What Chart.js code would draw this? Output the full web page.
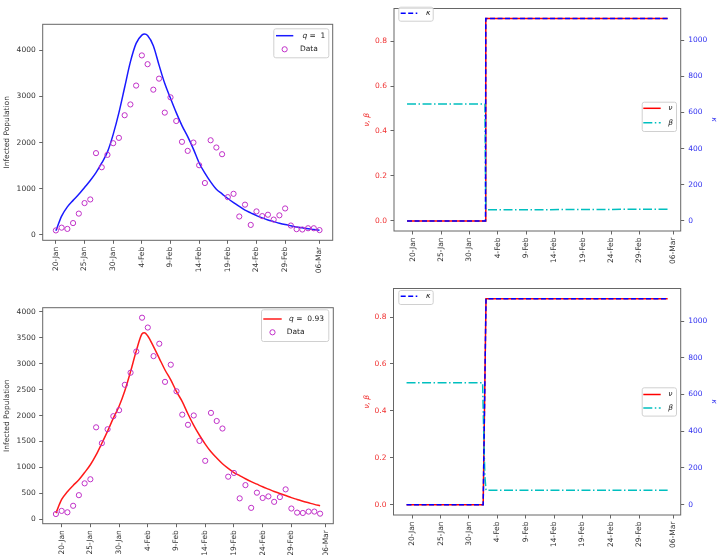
<!DOCTYPE html>
<html>
<head>
<meta charset="utf-8">
<script src="https://cdn.jsdelivr.net/npm/chart.js@4.4.0/dist/chart.umd.min.js"></script>
<style>
  body { margin: 0; background: #fff; }
  #wrap { position: relative; width: 718px; height: 555px; }
  canvas { position: absolute; }
</style>
</head>
<body>
<div id="wrap">
  <canvas id="tl" width="360" height="280" style="left:0;top:0"></canvas>
  <canvas id="bl" width="360" height="275" style="left:0;top:280px"></canvas>
  <canvas id="tr" width="358" height="280" style="left:360px;top:0"></canvas>
  <canvas id="br" width="358" height="275" style="left:360px;top:280px"></canvas>
</div>
<script>
// day index of each observation (0 = first day of the series)
const days = [0,1,2,3,4,5,6,7,8,9,10,11,12,13,14,15,16,17,18,19,20,21,22,23,24,25,26,27,28,29,30,31,32,33,34,35,36,37,38,39,40,41,42,43,44,45,46];
// daily infected counts (open circles)
const infectedData = [99,159,132,258,463,691,770,1773,1467,1736,1988,2104,2594,2828,3237,3890,3700,3148,3387,2651,2982,2469,2018,1822,2002,1511,1126,2052,1895,1750,820,892,401,657,218,511,409,439,334,426,575,205,126,119,146,146,106];

// fitted curve, q = 1
const fitDaysQ1 = [0,1,2,3,4,5,6,7,8,9,10,11,12,13,14,15,15.5,16,17,18,19,20,21,22,23,24,25,26,27,28,29,30,31,32,33,34,35,36,37,38,39,40,41,42,43,44,45,46];
const fitQ1 = [90,410,610,750,880,1030,1180,1350,1560,1800,2180,2650,3200,3750,4150,4330,4354,4320,4100,3680,3280,2960,2650,2370,2130,1860,1560,1340,1150,990,890,790,700,620,540,480,420,370,325,290,255,225,200,175,155,135,118,102];

// fitted curve, q = 0.93
const fitDaysQ093 = [0,1,2,3,4,5,6,7,8,9,10,11,12,13,14,15,15.4,16,17,18,19,20,21,22,23,24,25,26,27,28,29,30,31,32,33,34,35,36,37,38,39,40,41,42,43,44,45,46];
const fitQ093 = [116,380,530,650,760,900,1050,1240,1466,1700,1950,2180,2480,2850,3250,3580,3600,3537,3330,3105,2880,2688,2463,2270,2030,1810,1620,1450,1300,1180,1070,980,900,840,780,725,675,625,580,535,495,455,415,380,345,315,285,260];

// date tick labels
const tickLabels = ['20-Jan','25-Jan','30-Jan','4-Feb','9-Feb','14-Feb','19-Feb','24-Feb','29-Feb','06-Mar'];
const tickDaysA = [0,5,10,15,20,25,30,35,40,46];
const tickDaysB = [1,6,11,16,21,26,31,36,41,47];

// value axis ticks
const infTicksTop = [0,1000,2000,3000,4000];
const infTicksBot = [0,500,1000,1500,2000,2500,3000,3500,4000];
const rateTicks = [0,0.2,0.4,0.6,0.8];
const kappaTicks = [0,200,400,600,800,1000];

// parameter paths, top right (q = 1)
const stepDaysTop = [0,13.85,13.9,46];
const nuTop = [0,0,0.9,0.9];
const kappaTop = [0,0,1119,1119];
const betaDaysTop = [0,13.75,13.9,46];
const betaTop = [0.52,0.52,0.049,0.052];

// parameter paths, bottom right (q = 0.93)
const stepDaysBot = [0,13.5,14.0,46];
const nuBot = [0,0,0.878,0.878];
const kappaBot = [0,0,1121,1121];
const betaDaysBot = [0,13.4,13.6,13.8,14.0,46];
const betaBot = [0.52,0.52,0.3,0.12,0.062,0.062];

const FONT = 'DejaVu Sans';
const tickFont = { family: FONT, size: 7.5 };
const textColor = '#333';
const frameColor = '#666';
const redTick = '#f03030';
const blueTick = '#3030f0';
const dataColor = '#c030c8';

function pts(xs, ys) { return xs.map((x, i) => ({ x: x, y: ys[i] })); }
function pad5(arrs) {
  const all = [].concat(...arrs);
  const lo = Math.min(...all), hi = Math.max(...all);
  return { min: lo - 0.05 * (hi - lo), max: hi + 0.05 * (hi - lo) };
}

const framePlugin = {
  id: 'frame',
  afterDatasetsDraw(chart) {
    const { ctx, chartArea: a } = chart;
    ctx.save();
    ctx.strokeStyle = frameColor;
    ctx.lineWidth = 1;
    ctx.strokeRect(a.left, a.top, a.right - a.left, a.bottom - a.top);
    ctx.restore();
  }
};

// matplotlib-like legend boxes drawn in canvas pixels
function legendPlugin(boxes) {
  return {
    id: 'boxLegend',
    afterDraw(chart) {
      const ctx = chart.ctx;
      ctx.save();
      boxes.forEach(b => {
        ctx.beginPath();
        ctx.roundRect(b.x + 0.5, b.y + 0.5, b.w, b.h, 2);
        ctx.fillStyle = 'rgba(255,255,255,0.8)';
        ctx.fill();
        ctx.strokeStyle = '#d0d0d0';
        ctx.lineWidth = 1;
        ctx.stroke();
        b.rows.forEach((r, i) => {
          const y = b.y + b.firstRow + i * b.rowGap;
          if (r.kind === 'line') {
            ctx.beginPath();
            ctx.setLineDash(r.dash || []);
            ctx.strokeStyle = r.color;
            ctx.lineWidth = 1.5;
            ctx.moveTo(b.x + b.s0, y);
            ctx.lineTo(b.x + b.s1, y);
            ctx.stroke();
            ctx.setLineDash([]);
          } else {
            ctx.beginPath();
            ctx.strokeStyle = r.color;
            ctx.lineWidth = 1;
            ctx.arc(b.x + (b.s0 + b.s1) / 2, y, 2.6, 0, Math.PI * 2);
            ctx.stroke();
          }
          let x = b.x + b.tx;
          ctx.fillStyle = '#222';
          ctx.textBaseline = 'middle';
          r.label.forEach(seg => {
            ctx.font = (seg.i ? 'italic ' : '') + '7.5px "' + FONT + '"';
            ctx.fillText(seg.t, x, y);
            x += ctx.measureText(seg.t).width;
          });
        });
      });
      ctx.restore();
    }
  };
}

function dayAxis(tickDays, height) {
  return {
    type: 'linear', min: -2.3, max: 48.3,
    afterBuildTicks: s => { s.ticks = tickDays.map(v => ({ value: v })); },
    afterFit: s => { s.height = height; },
    ticks: { autoSkip: false, minRotation: 90, maxRotation: 90, padding: 3, color: textColor, font: tickFont,
             callback: (v, i) => tickLabels[i] },
    grid: { drawOnChartArea: false, drawTicks: true, tickLength: 3.5, color: frameColor },
    border: { display: false }
  };
}

function valueAxis(opts) {
  return {
    position: opts.position || 'left',
    min: opts.min, max: opts.max,
    afterBuildTicks: s => { s.ticks = opts.ticks.map(v => ({ value: v })); },
    afterFit: s => { s.width = opts.width; },
    ticks: { autoSkip: false, padding: opts.pad || 3.5, color: opts.color || textColor, font: tickFont,
             callback: opts.fmt || (v => String(v)) },
    grid: { drawOnChartArea: false, drawTicks: true, tickLength: 3.5, color: frameColor },
    border: { display: false },
    title: { display: true, text: opts.title, color: opts.titleColor || textColor,
             font: { family: FONT, size: 7.5, style: opts.italic ? 'italic' : 'normal' },
             padding: { top: opts.titlePad, bottom: 0 } }
  };
}

const common = {
  responsive: false, animation: false, devicePixelRatio: 1,
  plugins: { legend: { display: false }, tooltip: { enabled: false } }
};

function infectedChart(id, fitX, fitY, color, qText, yMin, yMax, yTicks, tickDays, pad, yW, xH, legend) {
  new Chart(document.getElementById(id), {
    type: 'line',
    data: {
      datasets: [
        { label: 'Data', data: pts(days, infectedData), showLine: false, pointRadius: 2.6, pointBorderWidth: 1,
          borderColor: dataColor, pointBorderColor: dataColor, backgroundColor: 'rgba(0,0,0,0)', pointBackgroundColor: 'rgba(0,0,0,0)' },
        { label: qText, data: pts(fitX, fitY), borderColor: color, borderWidth: 1.5, pointRadius: 0,
          cubicInterpolationMode: 'monotone', fill: false }
      ]
    },
    options: Object.assign({}, common, {
      layout: { padding: pad },
      scales: {
        x: dayAxis(tickDays, xH),
        y: valueAxis({ min: yMin, max: yMax, ticks: yTicks, width: yW, title: 'Infected Population', titlePad: 2.8 })
      }
    }),
    plugins: [framePlugin, legendPlugin(legend)]
  });
}

function paramChart(id, stepX, nu, kappa, betaX, beta, pad, yW, y1W, xH, legends) {
  const left = pad5([nu, beta]);
  const right = pad5([kappa]);
  new Chart(document.getElementById(id), {
    type: 'line',
    data: {
      datasets: [
        { label: 'κ', data: pts(stepX, kappa), yAxisID: 'y1', borderColor: '#0000ff', borderWidth: 1.5,
          borderDash: [5, 2.5], pointRadius: 0, tension: 0 },
        { label: 'β', data: pts(betaX, beta), yAxisID: 'y', borderColor: '#00bfbf', borderWidth: 1.5,
          borderDash: [9, 2.5, 1.5, 2.5], pointRadius: 0, tension: 0 },
        { label: 'ν', data: pts(stepX, nu), yAxisID: 'y', borderColor: '#ff0000', borderWidth: 1.5,
          pointRadius: 0, tension: 0 }
      ]
    },
    options: Object.assign({}, common, {
      layout: { padding: pad },
      scales: {
        x: dayAxis(tickDaysB, xH),
        y: valueAxis({ min: left.min, max: left.max, ticks: rateTicks, width: yW, color: redTick, fmt: v => v.toFixed(1),
                       title: 'ν, β', titleColor: redTick, italic: true, titlePad: 2.8 }),
        y1: valueAxis({ position: 'right', min: right.min, max: right.max, ticks: kappaTicks, width: y1W, color: blueTick, pad: 4,
                        title: 'κ', titleColor: blueTick, italic: true, titlePad: 0 })
      }
    }),
    plugins: [framePlugin, legendPlugin(legends)]
  });
}

infectedChart('tl', fitDaysQ1, fitQ1, '#1a1aff', 'q = 1', -115, 4564, infTicksTop, tickDaysA,
  { top: 24.3, right: 27.3, left: 0, bottom: 0 }, 42.7, 39.7,
  [{ x: 273.3, y: 28.3, w: 55, h: 29, firstRow: 7.4, rowGap: 13.6, s0: 2.7, s1: 20, tx: 26.7,
     rows: [{ kind: 'line', color: '#1a1aff', label: [{ t: ' ' }, { t: 'q', i: true }, { t: ' =  1' }] },
            { kind: 'circle', color: dataColor, label: [{ t: 'Data' }] }] }]);

infectedChart('bl', fitDaysQ093, fitQ093, '#ff1a1a', 'q = 0.93', -88, 4083, infTicksBot, tickDaysB,
  { top: 27.7, right: 26.7, left: 0, bottom: 0 }, 42.7, 31.3,
  [{ x: 261, y: 29.3, w: 67.3, h: 31.7, firstRow: 9.7, rowGap: 13.3, s0: 2.3, s1: 20.7, tx: 25.7,
     rows: [{ kind: 'line', color: '#ff1a1a', label: [{ t: ' ' }, { t: 'q', i: true }, { t: ' =  0.93' }] },
            { kind: 'circle', color: dataColor, label: [{ t: 'Data' }] }] }]);

paramChart('tr', stepDaysTop, nuTop, kappaTop, betaDaysTop, betaTop,
  { top: 1, right: 0, left: 0, bottom: 0 }, 34, 37.3, 49,
  [{ x: 38.3, y: 6.7, w: 34.4, h: 14, firstRow: 6.6, rowGap: 14, s0: 2.4, s1: 19, tx: 27.7,
     rows: [{ kind: 'line', color: '#0000ff', dash: [5, 2.5], label: [{ t: 'κ', i: true }] }] },
   { x: 281.7, y: 101.7, w: 34.3, h: 29.3, firstRow: 6.6, rowGap: 14.4, s0: 1.6, s1: 19, tx: 26.6,
     rows: [{ kind: 'line', color: '#ff0000', label: [{ t: 'ν', i: true }] },
            { kind: 'line', color: '#00bfbf', dash: [9, 2.5, 1.5, 2.5], label: [{ t: 'β', i: true }] }] }]);

paramChart('br', stepDaysBot, nuBot, kappaBot, betaDaysBot, betaBot,
  { top: 4.3, right: 0, left: 0, bottom: 0 }, 33.5, 37.3, 40,
  [{ x: 38.3, y: 10, w: 34.4, h: 14, firstRow: 6.3, rowGap: 14, s0: 2.4, s1: 19, tx: 27.7,
     rows: [{ kind: 'line', color: '#0000ff', dash: [5, 2.5], label: [{ t: 'κ', i: true }] }] },
   { x: 281.7, y: 107.3, w: 34.3, h: 28.3, firstRow: 7.2, rowGap: 13.6, s0: 1.6, s1: 19, tx: 26.6,
     rows: [{ kind: 'line', color: '#ff0000', label: [{ t: 'ν', i: true }] },
            { kind: 'line', color: '#00bfbf', dash: [9, 2.5, 1.5, 2.5], label: [{ t: 'β', i: true }] }] }]);
</script>
</body>
</html>
